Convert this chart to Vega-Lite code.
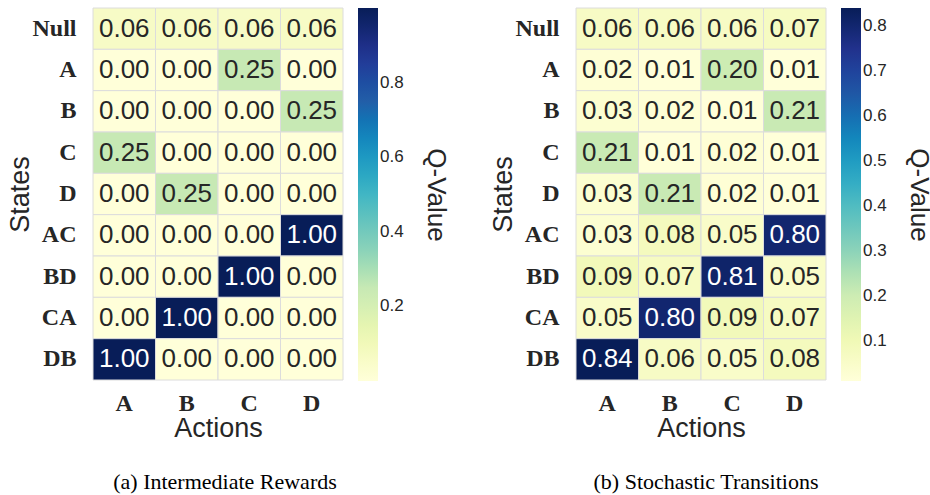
{
  "$schema": "https://vega.github.io/schema/vega-lite/v6.json",
  "padding": {"left": 6, "top": 7, "right": 2, "bottom": 2},
  "background": "white",
  "datasets": {
    "a": [
      {"state": "Null", "action": "A", "v": 0.06}, {"state": "Null", "action": "B", "v": 0.06}, {"state": "Null", "action": "C", "v": 0.06}, {"state": "Null", "action": "D", "v": 0.06},
      {"state": "A", "action": "A", "v": 0.0}, {"state": "A", "action": "B", "v": 0.0}, {"state": "A", "action": "C", "v": 0.25}, {"state": "A", "action": "D", "v": 0.0},
      {"state": "B", "action": "A", "v": 0.0}, {"state": "B", "action": "B", "v": 0.0}, {"state": "B", "action": "C", "v": 0.0}, {"state": "B", "action": "D", "v": 0.25},
      {"state": "C", "action": "A", "v": 0.25}, {"state": "C", "action": "B", "v": 0.0}, {"state": "C", "action": "C", "v": 0.0}, {"state": "C", "action": "D", "v": 0.0},
      {"state": "D", "action": "A", "v": 0.0}, {"state": "D", "action": "B", "v": 0.25}, {"state": "D", "action": "C", "v": 0.0}, {"state": "D", "action": "D", "v": 0.0},
      {"state": "AC", "action": "A", "v": 0.0}, {"state": "AC", "action": "B", "v": 0.0}, {"state": "AC", "action": "C", "v": 0.0}, {"state": "AC", "action": "D", "v": 1.0},
      {"state": "BD", "action": "A", "v": 0.0}, {"state": "BD", "action": "B", "v": 0.0}, {"state": "BD", "action": "C", "v": 1.0}, {"state": "BD", "action": "D", "v": 0.0},
      {"state": "CA", "action": "A", "v": 0.0}, {"state": "CA", "action": "B", "v": 1.0}, {"state": "CA", "action": "C", "v": 0.0}, {"state": "CA", "action": "D", "v": 0.0},
      {"state": "DB", "action": "A", "v": 1.0}, {"state": "DB", "action": "B", "v": 0.0}, {"state": "DB", "action": "C", "v": 0.0}, {"state": "DB", "action": "D", "v": 0.0}
    ],
    "b": [
      {"state": "Null", "action": "A", "v": 0.06}, {"state": "Null", "action": "B", "v": 0.06}, {"state": "Null", "action": "C", "v": 0.06}, {"state": "Null", "action": "D", "v": 0.07},
      {"state": "A", "action": "A", "v": 0.02}, {"state": "A", "action": "B", "v": 0.01}, {"state": "A", "action": "C", "v": 0.20}, {"state": "A", "action": "D", "v": 0.01},
      {"state": "B", "action": "A", "v": 0.03}, {"state": "B", "action": "B", "v": 0.02}, {"state": "B", "action": "C", "v": 0.01}, {"state": "B", "action": "D", "v": 0.21},
      {"state": "C", "action": "A", "v": 0.21}, {"state": "C", "action": "B", "v": 0.01}, {"state": "C", "action": "C", "v": 0.02}, {"state": "C", "action": "D", "v": 0.01},
      {"state": "D", "action": "A", "v": 0.03}, {"state": "D", "action": "B", "v": 0.21}, {"state": "D", "action": "C", "v": 0.02}, {"state": "D", "action": "D", "v": 0.01},
      {"state": "AC", "action": "A", "v": 0.03}, {"state": "AC", "action": "B", "v": 0.08}, {"state": "AC", "action": "C", "v": 0.05}, {"state": "AC", "action": "D", "v": 0.80},
      {"state": "BD", "action": "A", "v": 0.09}, {"state": "BD", "action": "B", "v": 0.07}, {"state": "BD", "action": "C", "v": 0.81}, {"state": "BD", "action": "D", "v": 0.05},
      {"state": "CA", "action": "A", "v": 0.05}, {"state": "CA", "action": "B", "v": 0.80}, {"state": "CA", "action": "C", "v": 0.09}, {"state": "CA", "action": "D", "v": 0.07},
      {"state": "DB", "action": "A", "v": 0.84}, {"state": "DB", "action": "B", "v": 0.06}, {"state": "DB", "action": "C", "v": 0.05}, {"state": "DB", "action": "D", "v": 0.08}
    ]
  },
  "hconcat": [
    {
      "data": {"name": "a"},
      "width": 250,
      "height": 372,
      "title": {"text": "(a) Intermediate Rewards", "orient": "bottom", "font": "Liberation Serif", "fontSize": 22, "fontWeight": "normal", "color": "black", "offset": 31, "dx": 7},
      "encoding": {
        "x": {"field": "action", "type": "nominal", "sort": ["A", "B", "C", "D"], "scale": {"paddingInner": 0, "paddingOuter": 0}, "title": "Actions"},
        "y": {"field": "state", "type": "nominal", "sort": ["Null", "A", "B", "C", "D", "AC", "BD", "CA", "DB"], "scale": {"paddingInner": 0, "paddingOuter": 0}, "title": "States"}
      },
      "layer": [
        {
          "mark": {"type": "rect", "stroke": "#dcdcdc", "strokeWidth": 1},
          "encoding": {
            "color": {"field": "v", "type": "quantitative",
              "scale": {"domain": [0, 0.125, 0.25, 0.375, 0.5, 0.625, 0.75, 0.875, 1.0],
                        "range": ["#ffffd9", "#edf8b1", "#c7e9b4", "#7fcdbb", "#41b6c4", "#1d91c0", "#225ea8", "#253494", "#081d58"]},
              "title": "Q-Value", "legend": {"values": [0.2, 0.4, 0.6, 0.8]}}
          }
        },
        {
          "mark": {"type": "text", "font": "Liberation Sans", "fontSize": 26},
          "encoding": {
            "text": {"field": "v", "type": "quantitative", "format": ".2f"},
            "color": {"condition": {"test": "datum.v > 0.5", "value": "white"}, "value": "#262626"}
          }
        }
      ]
    },
    {
      "data": {"name": "b"},
      "width": 250,
      "height": 372,
      "title": {"text": "(b) Stochastic Transitions", "orient": "bottom", "font": "Liberation Serif", "fontSize": 22, "fontWeight": "normal", "color": "black", "offset": 31, "dx": 5},
      "encoding": {
        "x": {"field": "action", "type": "nominal", "sort": ["A", "B", "C", "D"], "scale": {"paddingInner": 0, "paddingOuter": 0}, "title": "Actions"},
        "y": {"field": "state", "type": "nominal", "sort": ["Null", "A", "B", "C", "D", "AC", "BD", "CA", "DB"], "scale": {"paddingInner": 0, "paddingOuter": 0}, "title": "States"}
      },
      "layer": [
        {
          "mark": {"type": "rect", "stroke": "#dcdcdc", "strokeWidth": 1},
          "encoding": {
            "color": {"field": "v", "type": "quantitative",
              "scale": {"domain": [0.01, 0.11375, 0.2175, 0.32125, 0.425, 0.52875, 0.6325, 0.73625, 0.84],
                        "range": ["#ffffd9", "#edf8b1", "#c7e9b4", "#7fcdbb", "#41b6c4", "#1d91c0", "#225ea8", "#253494", "#081d58"]},
              "title": "Q-Value", "legend": {"values": [0.1, 0.2, 0.3, 0.4, 0.5, 0.6, 0.7, 0.8]}}
          }
        },
        {
          "mark": {"type": "text", "font": "Liberation Sans", "fontSize": 26},
          "encoding": {
            "text": {"field": "v", "type": "quantitative", "format": ".2f"},
            "color": {"condition": {"test": "datum.v > 0.5", "value": "white"}, "value": "#262626"}
          }
        }
      ]
    }
  ],
  "spacing": 40,
  "resolve": {"scale": {"color": "independent"}},
  "config": {
    "view": {"stroke": null},
    "axis": {
      "labelFont": "Liberation Serif",
      "labelFontWeight": "bold",
      "labelFontSize": 24,
      "labelColor": "#262626",
      "labelAngle": 0,
      "ticks": false,
      "domain": false,
      "grid": false,
      "titleFont": "Liberation Sans",
      "titleFontWeight": "normal",
      "titleFontSize": 27,
      "titleColor": "#262626"
    },
    "axisX": {"labelPadding": 11, "titlePadding": 0},
    "axisY": {"labelPadding": 17, "titlePadding": -3},
    "legend": {
      "orient": "right",
      "offset": 15,
      "gradientLength": 373,
      "gradientThickness": 20,
      "gradientStrokeWidth": 0,
      "labelFont": "Liberation Sans",
      "labelFontSize": 17,
      "labelColor": "#262626",
      "labelOffset": 12,
      "titleOrient": "right",
      "titleAngle": 270,
      "titleFont": "Liberation Sans",
      "titleFontSize": 26,
      "titleFontWeight": "normal",
      "titleColor": "#262626",
      "titleAnchor": "middle",
      "titleBaseline": "bottom",
      "titlePadding": 19
    }
  }
}
